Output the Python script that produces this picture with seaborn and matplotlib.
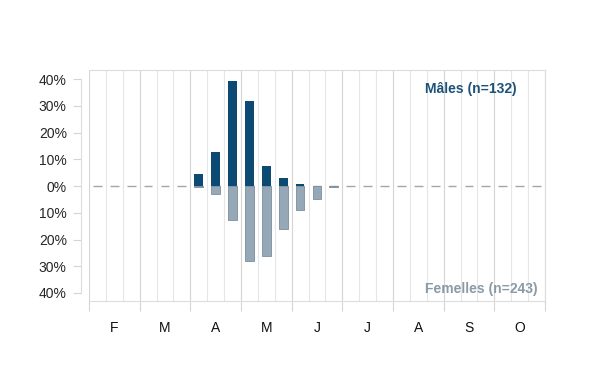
import numpy as np
import pandas as pd
import matplotlib.pyplot as plt
import seaborn as sns

# Months Feb..Oct, each split in three periods (27 bins)
months = ['F', 'M', 'A', 'M', 'J', 'J', 'A', 'S', 'O']
periods_per_month = 3

# Share of captures per period (%)
males = [0, 0, 0, 0, 0, 0, 4.5, 12.8, 39.3, 31.8, 7.5, 3.0, 0.8, 0, 0,
         0, 0, 0, 0, 0, 0, 0, 0, 0, 0, 0, 0]
females = [0, 0, 0, 0, 0, 0, 0.5, 2.9, 12.6, 28.2, 26.0, 16.2, 9.1, 5.0, 0.4,
           0, 0, 0, 0, 0, 0, 0, 0, 0, 0, 0, 0]

male_label = 'Mâles (n=132)'
female_label = 'Femelles (n=243)'

male_color = '#0d4a73'
female_color = '#94a8b7'
female_edge = '#7a8e9c'

n_bins = len(months) * periods_per_month
df = pd.DataFrame({
    'bin': np.arange(n_bins),
    'males': np.array(males) / 100,
    'females': -np.array(females) / 100,
})
# empty periods get no bar, only the dashed baseline
bars = df.replace(0, np.nan)
bars['bin'] = df['bin']

sns.set_style('white')
plt.rcParams['font.family'] = ['Liberation Sans', 'DejaVu Sans']

fig = plt.figure(figsize=(6, 3.9), dpi=100)
ax = fig.add_axes([0.1483, 0.2282, 0.76, 0.5923])

bar_w = 0.52
order = list(range(n_bins))
# zero baseline drawn as short dashes, one per period
ax.hlines(np.zeros(n_bins), df['bin'] - bar_w / 2, df['bin'] + bar_w / 2,
          color='#a6a6a6', lw=1, zorder=2)

sns.barplot(data=bars, x='bin', y='males', order=order, color=male_color,
            width=bar_w, saturation=1, linewidth=0, ax=ax, zorder=3)
sns.barplot(data=bars, x='bin', y='females', order=order, color=female_color,
            width=bar_w, saturation=1, edgecolor=female_edge, linewidth=0.6,
            ax=ax, zorder=3)

ax.set_xlim(-0.5, n_bins - 0.5)
ax.set_ylim(-0.430, 0.434)

# grid: month boundaries and period boundaries
month_edges = np.arange(0, n_bins + 1, periods_per_month) - 0.5
period_edges = np.arange(0, n_bins + 1) - 0.5
ax.set_xticks(month_edges)
ax.set_xticklabels([''] * len(month_edges))
ax.set_xticks(period_edges, minor=True)
ax.grid(True, axis='x', which='major', color='#d4d4d4', lw=0.8)
ax.grid(True, axis='x', which='minor', color='#e6e6e6', lw=0.8)
ax.set_axisbelow(True)
ax.tick_params(axis='x', which='major', length=7, width=0.8, color='#d4d4d4',
               bottom=True)
ax.tick_params(axis='x', which='minor', length=0)

for i, m in enumerate(months):
    ax.text(i * periods_per_month + (periods_per_month - 1) / 2, -0.085, m,
            transform=ax.get_xaxis_transform(), ha='center', va='top',
            fontsize=10, color='#111111')

yt = np.arange(-0.4, 0.41, 0.1)
ax.set_yticks(yt)
ax.set_yticklabels([f'{abs(round(v * 100))}%' for v in yt], fontsize=10,
                   color='#111111')
ax.tick_params(axis='y', length=6, width=0.8, color='#d4d4d4', left=True, pad=4)

for s in ['top', 'right', 'bottom']:
    ax.spines[s].set_color('#dcdcdc')
    ax.spines[s].set_linewidth(0.8)
ax.spines['left'].set_position(('outward', 6))
ax.spines['left'].set_bounds(-0.4, 0.4)
ax.spines['left'].set_color('#dcdcdc')
ax.spines['left'].set_linewidth(0.8)

ax.set_xlabel('')
ax.set_ylabel('')

ax.text(0.937, 0.918, male_label, transform=ax.transAxes, ha='right',
        va='center', fontsize=10, fontweight='bold', color='#1d5279')
ax.text(0.983, 0.05, female_label, transform=ax.transAxes, ha='right',
        va='center', fontsize=10, fontweight='bold', color='#8a9aa7')

fig.savefig('out.png', dpi=100)
plt.close(fig)
